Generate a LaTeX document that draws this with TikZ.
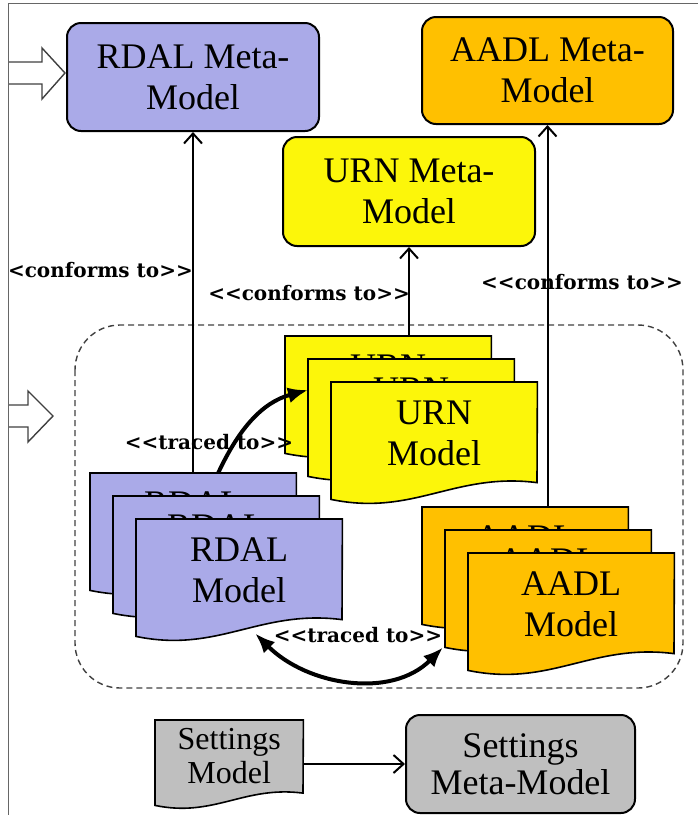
\documentclass[tikz,border=0pt]{standalone}
\usepackage{fontspec}
\setmainfont{Liberation Serif}
\newfontfamily\tagfont{DejaVu Serif}
\usetikzlibrary{arrows.meta}

\definecolor{rdalblue}{RGB}{170,170,232}
\definecolor{urnyellow}{RGB}{252,246,10}
\definecolor{aadlorange}{RGB}{255,192,0}
\definecolor{setgray}{RGB}{191,191,191}

\tikzset{
  metabox/.style={draw, line width=2pt, rounded corners=14pt, align=center, inner sep=0pt,
    font=\fontsize{36}{41}\selectfont},
  docline/.style={draw, line width=1.6pt},
  conforms/.style={-{Straight Barb[length=10pt,width=18pt]}, line width=2pt},
  traced/.style={line width=4pt, -{Latex[length=20pt,width=16pt]}},
  tag/.style={font=\tagfont\bfseries\fontsize{20}{24}\selectfont, inner sep=0pt},
}

% name, left, top, width, height, fill, text, font
\newcommand{\docshape}[8]{%
  \node[minimum width=#4pt, minimum height=#5pt, inner sep=0pt, anchor=north west] (#1) at ({#2},{-(#3)}) {};
  \draw[docline, fill=#6] (#1.north west) -- (#1.north east) -- ({#2+#4},{-(#3)-0.86*#5})
    .. controls ({#2+0.6*#4},{-(#3)-0.77*#5}) and ({#2+0.4*#4},{-(#3)-1.15*#5}) .. (#1.south west) -- cycle;
  \node[align=center, font=#8] (#1t) at ([yshift=7pt]#1.center) {#7};
}

\begin{document}
\begin{tikzpicture}[x=1pt,y=1pt]
\useasboundingbox (0,0) rectangle (698,-815);

% input arrows on the left
\foreach \yc/\xb/\xt in {73/42/65, 416/28/53}
  \draw[fill=white, draw=black!75, line width=1.4pt] (8,{-\yc+11}) -- (\xb,{-\yc+11}) -- (\xb,{-\yc+25})
    -- (\xt,-\yc) -- (\xb,{-\yc-26}) -- (\xb,{-\yc-11}) -- (8,{-\yc-11});
\draw[black!60, line width=0.8pt] (8,-815) -- (8,-3) -- (698,-3);

\draw[black!75, line width=1.4pt, dash pattern=on 6pt off 4pt, rounded corners=45pt] (75,-325) rectangle (683,-688);

% meta-models
\node[metabox, fill=rdalblue, minimum width=252pt, minimum height=108pt] (rdalmm) at (193,-77) {RDAL Meta-\\Model};
\node[metabox, fill=aadlorange, minimum width=251pt, minimum height=107pt] (aadlmm) at (547.5,-70.5) {AADL Meta-\\Model};
\node[metabox, fill=urnyellow, minimum width=252pt, minimum height=109pt] (urnmm) at (409,-191.5) {URN Meta-\\Model};
\node[metabox, fill=setgray, minimum width=229pt, minimum height=98pt, font=\fontsize{36}{37}\selectfont] (setmm) at (520.5,-764) {Settings\\Meta-Model};

% model stacks
\foreach \n/\d in {1/0,2/23,3/46} {
  \docshape{rdal\n}{90+\d}{473+\d}{206}{117}{rdalblue}{RDAL\\Model}{\fontsize{36}{41}\selectfont}
  \docshape{urn\n}{285+\d}{336+\d}{206}{117}{urnyellow}{URN\\Model}{\fontsize{36}{41}\selectfont}
  \docshape{aadl\n}{422+\d}{507+\d}{206}{117}{aadlorange}{AADL\\Model}{\fontsize{36}{41}\selectfont}
}
\docshape{setm}{155}{720}{148}{85}{setgray}{Settings\\Model}{\fontsize{32}{34}\selectfont}

% conforms to
\draw[conforms] (rdalmm.south |- rdal1.north) -- (rdalmm.south);
\draw[conforms] (urnmm.south |- urn1.north) -- (urnmm.south);
\draw[conforms] (aadlmm.south |- aadl1.north) -- (aadlmm.south);
\draw[conforms] (setm.east |- setmm.west) -- (setmm.west);

\node[tag, anchor=east] (conf1) at (193,-270) {<conforms to>{}>};
\node[tag, anchor=east] (conf2) at (410,-293) {<{}<conforms to>{}>};
\node[tag] (conf3) at (582,-282) {<{}<conforms to>{}>};

% traced to
\draw[traced] ([xshift=25pt]rdal1.north) to[out=65,in=195] ([yshift=-31pt]urn2.north west);
\draw[traced, {Latex[length=20pt,width=16pt]}-{Latex[length=20pt,width=16pt]}]
  ([xshift=16pt,yshift=3pt]rdal3.south) to[out=-45,in=-135] ([xshift=-2pt]aadl2.south west);
\node[tag] (trace1) at (209,-442) {<{}<traced to>{}>};
\node[tag] (trace2) at (358,-635) {<{}<traced to>{}>};
\end{tikzpicture}
\end{document}
